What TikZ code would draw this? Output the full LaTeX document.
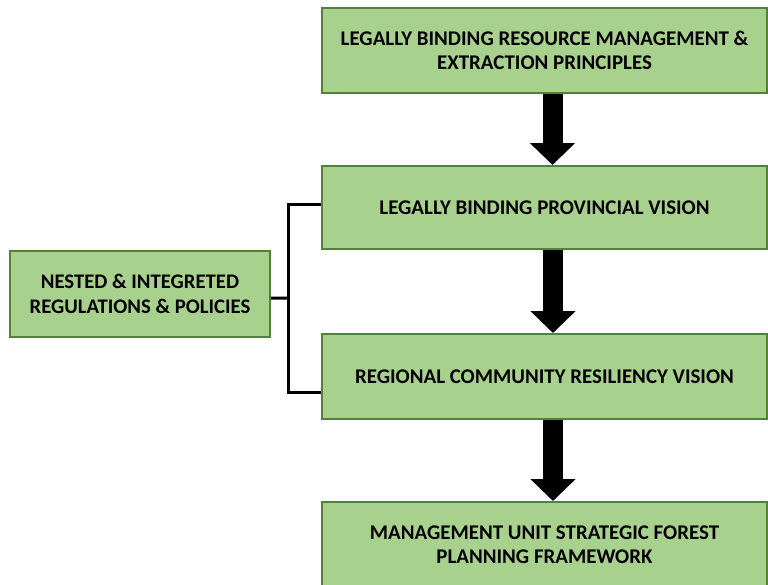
\documentclass[tikz,border=0pt]{standalone}
\usepackage{fontspec}
\setmainfont{Carlito}
\usetikzlibrary{arrows.meta}
\definecolor{boxfill}{HTML}{A9D18E}
\definecolor{boxline}{HTML}{548235}
\tikzset{
    stage/.style={draw=boxline, fill=boxfill, line width=0.04cm, minimum width=8.9cm,
        minimum height=1.7cm, inner sep=0pt, align=center,
        font=\bfseries\fontsize{11.9}{13.7}\selectfont},
    flow/.style={line width=0.4cm, -{Triangle[width=0.88cm,length=0.44cm]}},
    link/.style={line width=0.06cm}
}

\begin{document}
\begin{tikzpicture}[x=0.02cm, y=-0.02cm]
        \useasboundingbox (0,0) rectangle (768,585);
        \node[stage] (principles) at (544.5,50.5) {LEGALLY BINDING RESOURCE MANAGEMENT \&\\EXTRACTION PRINCIPLES};
        \node[stage, minimum height=1.66cm] (provincial) at (544.5,207.5) {LEGALLY BINDING PROVINCIAL VISION};
        \node[stage] (regional) at (544.5,376.5) {REGIONAL COMMUNITY RESILIENCY VISION};
        \node[stage] (framework) at (544.5,544.5) {MANAGEMENT UNIT STRATEGIC FOREST\\PLANNING FRAMEWORK};
        \node[stage, minimum width=5.2cm, minimum height=1.72cm,
            font=\bfseries\fontsize{11.8}{14}\selectfont] (policies) at (140,294) {NESTED \& INTEGRETED\\REGULATIONS \& POLICIES};
        \draw[flow] ([xshift=0.16cm]principles.south) -- ([xshift=0.16cm]provincial.north);
        \draw[flow] ([xshift=0.17cm]provincial.south) -- ([xshift=0.17cm]regional.north);
        \draw[flow] ([xshift=0.17cm]regional.south) -- ([xshift=0.17cm]framework.north);
        \coordinate (spine) at (288,298);
        \draw[link] ([yshift=-0.08cm]policies.east) -- (spine);
        \draw[link] ([yshift=0.07cm]provincial.west) -| (spine) |- ([yshift=-0.31cm]regional.west);
    \end{tikzpicture}
\end{document}
